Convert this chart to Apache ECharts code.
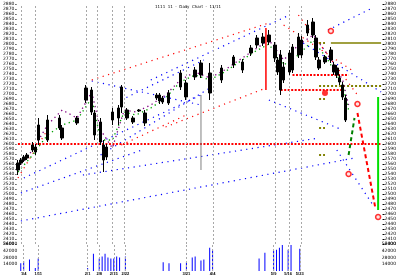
<!DOCTYPE html>
<html><head><meta charset="utf-8">
<script src="https://cdn.jsdelivr.net/npm/echarts@6/dist/echarts.min.js"></script>
<style>html,body{margin:0;padding:0;background:#fff}#c{width:399px;height:276px}</style>
</head><body><div id="c"></div>
<script>
const N = 124;
// candles
const candleIdx   = [0,1,2,3,5,6,7,10,14,15,20,23,25,26,28,29,30,32,34,35,37,39,41,43,47,48,49,51,55,57,60,62,65,69,73,76,79,81,83,85,87,88,89,90,92,93,95,96,98,100,101,102,104,106,107,108,109,110,111];
const candleTop   = [2562,2568,2574,2578,2598,2594,2638,2648,2652,2632,2652,2712,2708,2662,2644,2598,2594,2664,2672,2714,2668,2652,2668,2662,2698,2698,2692,2702,2742,2722,2748,2762,2742,2752,2774,2764,2792,2812,2814,2818,2798,2768,2778,2754,2782,2794,2814,2808,2838,2844,2812,2768,2774,2788,2758,2752,2732,2718,2692];
const candleBot   = [2548,2562,2568,2572,2588,2584,2608,2608,2632,2612,2642,2688,2664,2618,2604,2568,2574,2648,2652,2674,2652,2644,2666,2642,2692,2686,2684,2682,2714,2694,2734,2738,2702,2728,2758,2748,2782,2798,2802,2804,2772,2744,2708,2728,2744,2748,2778,2778,2822,2818,2774,2752,2764,2768,2744,2738,2724,2694,2648];
const candleHigh  = [2568,2572,2578,2582,2604,2600,2652,2658,2658,2638,2656,2718,2714,2668,2652,2608,2600,2672,2678,2718,2672,2656,2670,2668,2702,2702,2696,2708,2748,2728,2754,2768,2762,2758,2778,2770,2798,2818,2822,2828,2804,2774,2788,2764,2788,2800,2822,2816,2848,2852,2818,2774,2778,2794,2764,2758,2738,2724,2698];
const candleLow   = [2538,2558,2564,2568,2584,2578,2598,2604,2628,2608,2638,2682,2658,2608,2598,2544,2568,2638,2638,2662,2648,2640,2664,2636,2688,2680,2680,2678,2708,2688,2728,2732,2688,2722,2752,2742,2776,2792,2796,2798,2764,2738,2698,2722,2738,2742,2772,2772,2816,2812,2768,2748,2760,2762,2738,2732,2718,2688,2644];
const candleUp    = [1,1,1,1,1,0,1,0,1,0,1,1,0,0,0,0,1,1,1,1,0,0,1,0,1,0,1,1,1,0,1,1,0,1,1,0,1,1,1,1,0,0,0,1,1,1,1,0,1,1,0,0,1,1,0,0,0,0,0];
// volume
const volIdx = [0,1,3,5,6,23,25,27,28,29,30,31,32,33,34,36,49,51,55,57,59,60,62,63,65,66,82,84,87,88,89,90,92,93,96];
const volVal = [16000,20000,24000,6000,26000,6000,36000,26000,30000,36000,28000,26000,26000,30000,28000,30000,18000,16000,16000,18000,28000,30000,22000,24000,48000,44000,26000,38000,42000,44000,48000,54000,44000,54000,46000];
// dotted moving-average style tracks
const maPurpleIdx = [0,5,10,15,20,25,28,32,36,40,45,50,55,60,65,70,75,80,85,90,95,100,105,110,112];
const maPurpleVal = [2552,2588,2638,2668,2652,2704,2628,2592,2668,2664,2678,2698,2728,2744,2732,2748,2768,2788,2808,2768,2798,2818,2778,2728,2678];
const maGreenIdx  = [0,5,10,15,20,25,28,32,36,40,45,50,55,60,65,70,75,80,85,90,95,100,105,110,112];
const maGreenVal  = [2544,2578,2618,2638,2648,2692,2608,2608,2664,2658,2672,2692,2724,2738,2728,2744,2764,2784,2800,2758,2778,2808,2768,2718,2668];
// trend lines [x1, p1, x2, p2]
const blueLines = [[1,2446,114,2572],[22,2538,102,2612],[1,2502,42,2588],[2,2532,62,2698],[28,2578,65,2712],[25,2726,62,2678],[45,2728,92,2858],[95,2808,123,2704],[105,2828,120,2872],[85,2688,110,2628],[108,2588,120,2480],[35,2688,63,2768]];
const redLines = [[0,2532,11,2638],[25,2728,85,2842],[50,2634,84,2712],[95,2858,115,2698],[90,2838,113,2748],[35,2598,57,2658]];
const redLevels = [[0,2600,123,2600],[89,2708,110,2708],[93,2738,112,2738]];
const oliveSolid = [[106,2802,123,2802]];
const oliveDotted = [[102,2716,123,2716],[102,2802,104,2802],[102,2690,104,2690],[102,2632,104,2632],[102,2578,104,2578]];
const greenSolid = [[122,2694,122,2468]];
const redDashed = [[115,2662,121,2474]];
const greenDashed = [[112,2578,114,2652]];
const redVertical = [[84,2832,84,2708]];
const grayVertical = [[62,2698,62,2548]];
const ringMarks = [[106,2826],[115,2680],[112,2540],[122,2454]];
const dotMarks = [[104,2702]];
const vLineIdx = [1,6,23,27,32,36,57,66,87,92,96];
const xTickText = ['1/4','1/11','2/1','2/8','2/15','2/22','3/21','4/4','5/9','5/16','5/23'];

const cats = Array.from({length:N},(_, i)=>String(i));
const cData = new Array(N).fill('-');
candleIdx.forEach((x,k)=>{
  const o = candleUp[k] ? candleBot[k] : candleTop[k];
  const c = candleUp[k] ? candleTop[k] : candleBot[k];
  cData[x] = [o,c,candleLow[k],candleHigh[k]];
});
const vData = new Array(N).fill('-');
volIdx.forEach((x,k)=>{ vData[x] = volVal[k]; });

function segs(arr, color, width, dash){
  return arr.map(a=>({type:'line',xAxisIndex:0,yAxisIndex:0,data:[[a[0],a[1]],[a[2],a[3]]],symbol:'none',silent:true,
    lineStyle:{color:color,width:width,type:dash,cap:'butt'},z:3}));
}
function track(idx, val, color){
  return {type:'line',xAxisIndex:0,yAxisIndex:0,data:idx.map((x,k)=>[x,val[k]]),symbol:'none',silent:true,
    lineStyle:{color:color,width:1.3,type:[1.3,3.5],cap:'butt'},z:4};
}
const vmark = {silent:true,symbol:'none',label:{show:false},
  lineStyle:{color:'#a8a8a8',type:[2,2],width:1},data:vLineIdx.map(x=>({xAxis:x}))};
const lblStyle = {fontSize:4.5,color:'#000',fontFamily:'DejaVu Sans',margin:2,formatter:(v)=>String(v)};

const chart = echarts.init(document.getElementById('c'),null,{renderer:'canvas'});
chart.setOption({
  animation:false,
  backgroundColor:'#fff',
  title:{text:'1111  11  -  Daily  Chart  -  11/11',left:150,top:0,textStyle:{fontSize:4,color:'#000',fontWeight:'normal',fontFamily:'DejaVu Sans'}},
  grid:[{left:14,right:13,top:4,height:240},{left:14,right:13,top:244,height:28}],
  xAxis:[
    {type:'category',gridIndex:0,data:cats,boundaryGap:true,axisLine:{show:false},axisTick:{show:false},axisLabel:{show:false},splitLine:{show:false}},
    {type:'category',gridIndex:1,data:cats,boundaryGap:true,axisLine:{show:false},axisTick:{show:false},
      axisLabel:{interval:0,fontSize:4,fontWeight:'bold',color:'#000',margin:1,
        formatter:(v)=>{const k=vLineIdx.indexOf(+v);return k>=0?xTickText[k]:'';}},splitLine:{show:false}}
  ],
  yAxis:[
    {type:'value',gridIndex:0,position:'left',min:2400,max:2880,interval:10,axisLine:{show:false},axisTick:{show:true,length:1,lineStyle:{color:'#000'}},splitLine:{show:false},axisLabel:lblStyle},
    {type:'value',gridIndex:0,position:'right',min:2400,max:2880,interval:10,axisLine:{show:false},axisTick:{show:true,length:2,lineStyle:{color:'#000'}},splitLine:{show:false},axisLabel:lblStyle},
    {type:'value',gridIndex:1,position:'left',min:0,max:56000,interval:14000,axisLine:{show:false},axisTick:{show:false},splitLine:{show:false},axisLabel:Object.assign({},lblStyle,{showMinLabel:false})},
    {type:'value',gridIndex:1,position:'right',min:0,max:56000,interval:14000,axisLine:{show:false},axisTick:{show:false},splitLine:{show:false},axisLabel:Object.assign({},lblStyle,{showMinLabel:false})}
  ],
  series:[
    {type:'candlestick',xAxisIndex:0,yAxisIndex:0,data:cData,barWidth:3,
      itemStyle:{color:'#000',color0:'#000',borderColor:'#000',borderColor0:'#000',borderWidth:1},markLine:vmark,z:5},
    {type:'bar',xAxisIndex:1,yAxisIndex:2,data:vData,barWidth:1,itemStyle:{color:'#0000ff'},markLine:vmark},
    ...segs(blueLines,'#0000ff',1.2,[1.2,4.5]),
    ...segs(redLines,'#ff0000',1.2,[1.2,4.5]),
    ...segs(redLevels,'#ff0000',2,[2,1.5]),
    ...segs(oliveSolid,'#808000',1.5,'solid'),
    ...segs(oliveDotted,'#808000',2,[2,2]),
    ...segs(greenSolid,'#00e000',2,'solid'),
    ...segs(redDashed,'#ff0000',2,[4,3]),
    ...segs(greenDashed,'#008000',2,[4,3]),
    ...segs(redVertical,'#ff0000',1.5,'solid'),
    ...segs(grayVertical,'#808080',1,'solid'),
    track(maPurpleIdx,maPurpleVal,'#800080'),
    track(maGreenIdx,maGreenVal,'#00a000'),
    {type:'scatter',xAxisIndex:0,yAxisIndex:0,data:ringMarks,symbol:'circle',symbolSize:5,
      itemStyle:{color:'#ffdddd',borderColor:'#ff0000',borderWidth:1.5},z:8},
    {type:'scatter',xAxisIndex:0,yAxisIndex:0,data:dotMarks,symbol:'circle',symbolSize:6,
      itemStyle:{color:'#ff0000'},z:8}
  ]
});
</script></body></html>
